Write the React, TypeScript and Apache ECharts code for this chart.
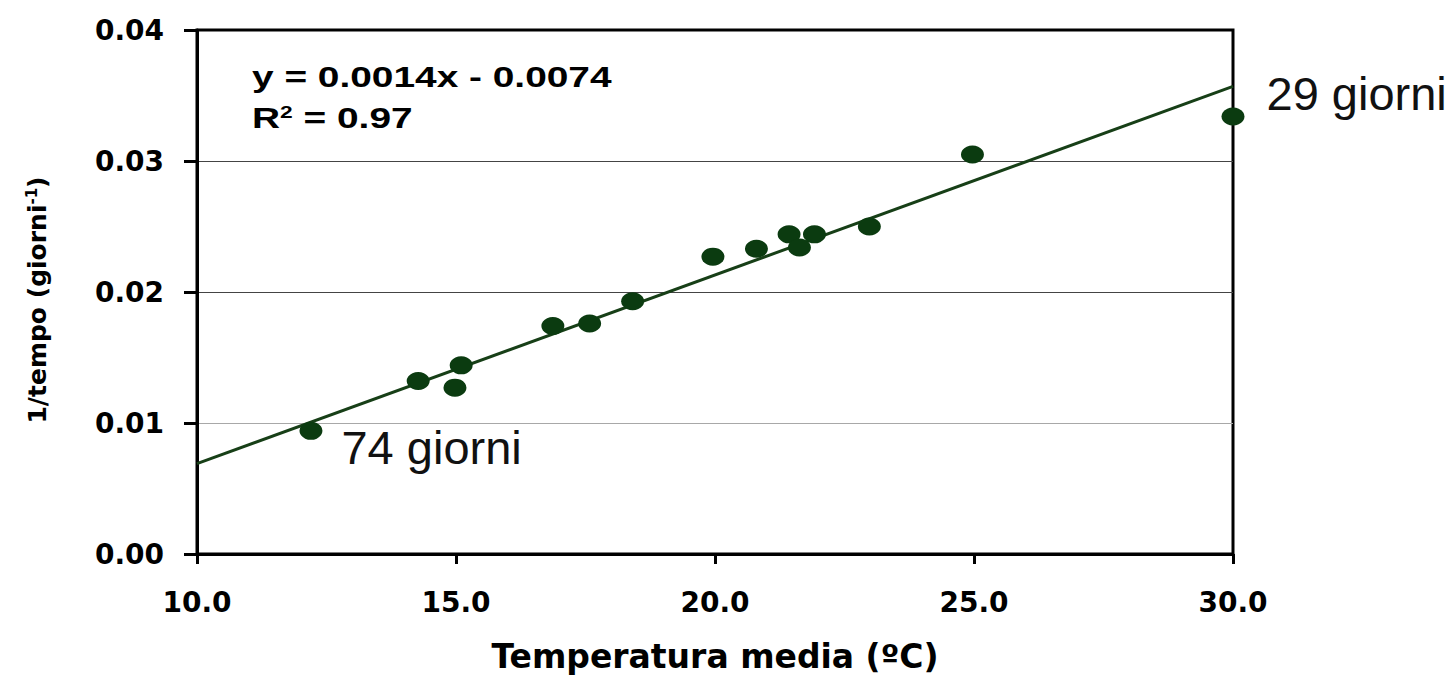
import React, { useEffect, useRef } from "react";
import * as echarts from "echarts";

// Data
const temps = [12.2, 14.27, 14.98, 15.1, 16.87, 17.58, 18.41, 19.96, 20.8, 21.43, 21.63, 21.92, 22.98, 24.97, 30.0];
const rates = [0.0094, 0.0132, 0.0127, 0.0144, 0.0174, 0.0176, 0.0193, 0.0227, 0.0233, 0.0244, 0.0234, 0.0244, 0.025, 0.0305, 0.0334];
const trendX = [10, 30];
const trendY = [0.0069, 0.0357];
const labelledIdx = [0, 14];
const labelTexts = ["74 giorni", "29 giorni"];
const xTicks = [10, 15, 20, 25, 30];
const yTicks = [0, 0.01, 0.02, 0.03, 0.04];
const eqLine1 = "y = 0.0014x - 0.0074";
const eqR2 = "0.97";

const BOLD = "DejaVu Sans";
const ARIAL = "Liberation Sans";

export default function App() {
  const ref = useRef<HTMLDivElement>(null);
  useEffect(() => {
    document.body.style.margin = "0";
    if (!ref.current) return;
    const chart = echarts.init(ref.current, undefined, { renderer: "svg" });
    const labelOffsets = [
      [42, 26],
      [45, -14],
    ];
    const scatterData = temps.map((t, i) => {
      const k = labelledIdx.indexOf(i);
      const item: any = { value: [t, rates[i]] };
      if (k >= 0) {
        item.label = {
          show: true,
          formatter: labelTexts[k],
          position: labelOffsets[k],
          align: "left",
          verticalAlign: "middle",
          fontFamily: ARIAL,
          fontSize: 47,
          color: "#111",
        };
      }
      return item;
    });
    chart.setOption({
      animation: false,
      backgroundColor: "#fff",
      grid: {
        left: 197,
        right: 220,
        top: 30,
        bottom: 116,
        show: true,
        borderColor: "#000",
        borderWidth: 3,
        backgroundColor: "transparent",
      },
      xAxis: {
        type: "value",
        min: xTicks[0],
        max: xTicks[xTicks.length - 1],
        interval: 5,
        name: "Temperatura media (ºC)",
        nameLocation: "middle",
        nameGap: 86,
        nameTextStyle: { fontFamily: BOLD, fontWeight: "bold", fontSize: 33, color: "#000" },
        axisLine: { show: true, onZero: false, lineStyle: { color: "#000", width: 3 } },
        axisTick: { show: true, inside: false, length: 10, lineStyle: { color: "#000", width: 3 } },
        axisLabel: {
          formatter: (v: number) => v.toFixed(1),
          fontFamily: BOLD,
          fontWeight: "bold",
          fontSize: 28,
          color: "#000",
          margin: 34,
        },
        splitLine: { show: false },
      },
      yAxis: {
        type: "value",
        min: yTicks[0],
        max: yTicks[yTicks.length - 1],
        interval: 0.01,
        name: "{a|1/tempo (giorni}{s|-1}{a|)}",
        nameLocation: "middle",
        nameGap: 146,
        nameTextStyle: {
          padding: [0, 16, 0, 0],
          rich: {
            a: { fontFamily: BOLD, fontWeight: "bold", fontSize: 25, color: "#000" },
            s: { fontFamily: BOLD, fontWeight: "bold", fontSize: 15, color: "#000", verticalAlign: "top", padding: [0, 0, 12, 0] },
          },
        },
        axisLine: { show: true, onZero: false, lineStyle: { color: "#000", width: 3 } },
        axisTick: { show: true, inside: false, length: 13, lineStyle: { color: "#000", width: 3 } },
        axisLabel: {
          formatter: (v: number) => v.toFixed(2),
          fontFamily: BOLD,
          fontWeight: "bold",
          fontSize: 28,
          color: "#000",
          margin: 33,
        },
        splitLine: {
          show: true,
          lineStyle: { color: ["#000", "#a8a8a8", "#444", "#444", "#000"], width: 1.2 },
        },
      },
      graphic: [
        {
          type: "text",
          x: 252,
          y: 77,
          scaleX: 1.34,
          style: {
            text: eqLine1,
            fontFamily: ARIAL,
            fontWeight: "bold",
            fontSize: 29,
            fill: "#000",
            verticalAlign: "middle",
          },
        },
        {
          type: "text",
          x: 252,
          y: 118,
          scaleX: 1.34,
          style: {
            text: "{a|R}{s|2}{a| = " + eqR2 + "}",
            verticalAlign: "middle",
            rich: {
              a: { fontFamily: ARIAL, fontWeight: "bold", fontSize: 29, fill: "#000" },
              s: { fontFamily: ARIAL, fontWeight: "bold", fontSize: 17, fill: "#000", verticalAlign: "top", padding: [0, 0, 10, 0] },
            },
          },
        },
      ],
      series: [
        {
          type: "line",
          data: trendX.map((x, i) => [x, trendY[i]]),
          symbol: "none",
          lineStyle: { color: "#173f17", width: 3 },
          z: 2,
        },
        {
          type: "scatter",
          data: scatterData,
          symbol: "circle",
          symbolSize: [23, 18],
          itemStyle: { color: "#0b3b10", opacity: 1 },
          clip: false,
          z: 3,
        },
      ],
    });
    return () => chart.dispose();
  }, []);
  return <div ref={ref} style={{ width: 1453, height: 678 }} />;
}
